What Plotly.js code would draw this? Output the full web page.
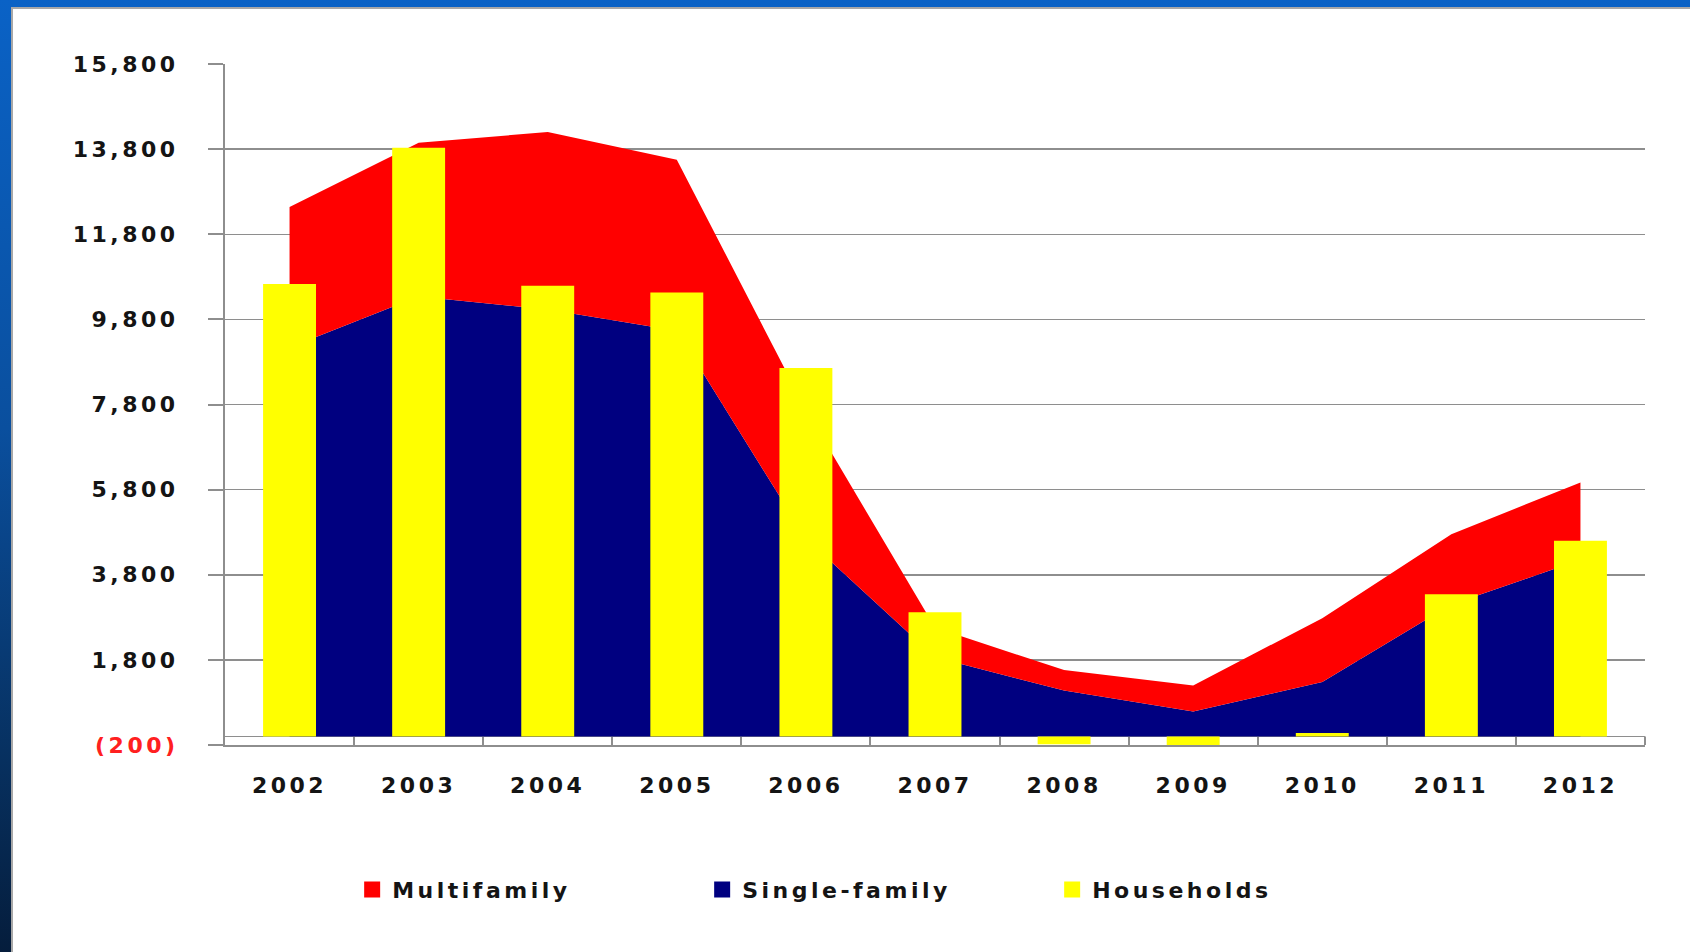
<!DOCTYPE html>
<html>
<head>
<meta charset="utf-8">
<script src="https://cdn.plot.ly/plotly-3.0.1.min.js"></script>
<style>
  html, body { margin: 0; padding: 0; width: 1690px; height: 952px; overflow: hidden;
    background: linear-gradient(to bottom, #0a62c6 0%, #0a4f9e 45%, #07305f 80%, #051d3c 100%); }
  #chart { position: absolute; left: 11px; top: 7px; width: 1679px; height: 945px;
    background: #fff; border-left: 2px solid #a8a8a8; border-top: 2px solid #a8a8a8; }
  #chart svg text { letter-spacing: 3.5px; }
</style>
</head>
<body>
<div id="chart"></div>
<script>
// ---- data ----
const years = ["2002","2003","2004","2005","2006","2007","2008","2009","2010","2011","2012"];
const singleFamily = [9140, 10340, 10030, 9530, 4650, 1860, 1080, 590, 1280, 3100, 4150];
const multifamily  = [3300, 3610, 4170, 4020, 3030, 700, 480, 610, 1500, 1650, 1820];
const households   = [10630, 13830, 10590, 10430, 8660, 2920, -180, -230, 80, 3340, 4600];
const yTickVals = [-200, 1800, 3800, 5800, 7800, 9800, 11800, 13800, 15800];
const yTickText = ["<span style='color:#ff2020'>(200)</span>", "1,800", "3,800", "5,800", "7,800", "9,800", "11,800", "13,800", "15,800"];
const legendNames = ["Multifamily", "Single-family", "Households"];

const RED = "#ff0000", NAVY = "#000080", YELLOW = "#ffff00";
const GRAY = "#8e8e8e";
const FONT = {family: "DejaVu Sans, Verdana, sans-serif", size: 22, color: "#141414", weight: "bold"};
const yRange = [-200, 15800];
const legendColors = [RED, NAVY, YELLOW];

const traces = [
  {x: years, y: singleFamily, type: "scatter", mode: "none", stackgroup: "s",
   fillcolor: NAVY, line: {width: 0}, name: "Single-family", showlegend: false, hoverinfo: "skip"},
  {x: years, y: multifamily, type: "scatter", mode: "none", stackgroup: "s",
   fillcolor: RED, line: {width: 0}, name: "Multifamily", showlegend: false, hoverinfo: "skip"},
  {x: years, y: households, type: "bar", xaxis: "x2", yaxis: "y2", width: 0.41,
   marker: {color: YELLOW, line: {width: 0}}, name: "Households", showlegend: false}
];
// legend-only entries (no visible points)
legendNames.forEach((nm, i) => {
  traces.push({x: [years[0]], y: [null], type: "scatter", mode: "markers", name: nm,
    marker: {symbol: "square", size: 16, color: legendColors[i]}, hoverinfo: "skip"});
});

const layout = {
  width: 1679, height: 945,
  margin: {l: 212, r: 47, t: 55, b: 209, pad: 0},
  paper_bgcolor: "#ffffff", plot_bgcolor: "#ffffff",
  font: FONT,
  showlegend: true,
  legend: {orientation: "h", xref: "container", yref: "container",
    x: 0.202, y: 0.068, xanchor: "left", yanchor: "middle",
    entrywidth: 305, entrywidthmode: "pixels", font: FONT, traceorder: "normal"},
  xaxis: {type: "category", categoryarray: years, range: [-0.5, 10.5],
    showgrid: false, zeroline: false, showline: true, linecolor: GRAY, linewidth: 2,
    ticks: "inside", tickson: "boundaries", ticklen: 8, tickwidth: 2, tickcolor: GRAY,
    ticklabelstandoff: 20, tickfont: FONT, fixedrange: true},
  yaxis: {range: yRange, tickmode: "array", tickvals: yTickVals, ticktext: yTickText,
    showgrid: true, gridcolor: GRAY, gridwidth: 1.5,
    zeroline: true, zerolinecolor: GRAY, zerolinewidth: 1.5,
    showline: true, linecolor: GRAY, linewidth: 2,
    ticks: "outside", ticklen: 15, tickwidth: 2, tickcolor: GRAY,
    ticklabelstandoff: 25, tickfont: FONT, fixedrange: true},
  xaxis2: {type: "category", categoryarray: years, range: [-0.5, 10.5], overlaying: "x",
    visible: false, fixedrange: true},
  yaxis2: {range: yRange, overlaying: "y", visible: false, fixedrange: true},
  shapes: [
    {type: "line", xref: "paper", yref: "y", x0: 1, x1: 1, y0: -200, y1: 0,
     line: {color: GRAY, width: 2}}
  ]
};

Plotly.newPlot("chart", traces, layout, {staticPlot: true});
</script>
</body>
</html>
